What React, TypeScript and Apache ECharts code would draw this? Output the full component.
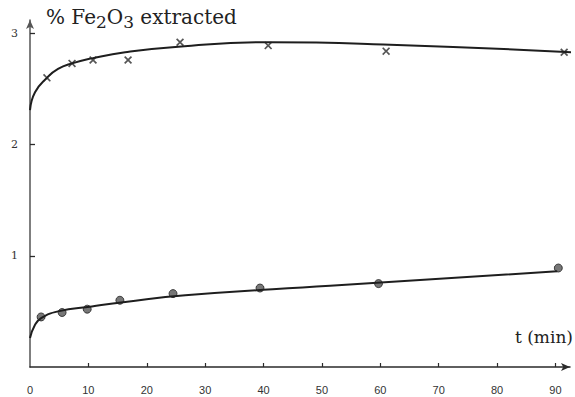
import React, { useEffect, useRef } from "react";
import * as echarts from "echarts";

// Upper series (crosses): t (min), % Fe2O3
const crossT = [2.9, 7.2, 10.8, 16.8, 25.7, 40.8, 61, 91.5];
const crossY = [2.6, 2.73, 2.76, 2.76, 2.92, 2.89, 2.84, 2.83];
// Upper fitted curve
const upperCurveT = [0, 0.86, 2.9, 4.8, 7.2, 10.6, 16.3, 25.4, 41, 60.5, 92.9];
const upperCurveY = [2.31, 2.47, 2.6, 2.68, 2.73, 2.775, 2.83, 2.88, 2.92, 2.9, 2.83];

// Lower series (circles)
const dotT = [1.9, 5.5, 9.8, 15.4, 24.5, 39.4, 59.7, 90.5];
const dotY = [0.45, 0.49, 0.52, 0.6, 0.66, 0.71, 0.75, 0.89];
// Lower fitted curve
const lowerCurveT = [0, 0.86, 1.9, 4.8, 10.6, 16.3, 26.6, 51.4, 90.3];
const lowerCurveY = [0.26, 0.38, 0.44, 0.5, 0.545, 0.585, 0.645, 0.73, 0.86];

const xLabelValues = [0, 10, 20, 30, 40, 50, 60, 70, 80, 90];
const xTickValues = [10, 20, 30, 40, 50, 60, 70, 80, 90];
const yLabelValues = [1, 2, 3];

const zip = (a: number[], b: number[]) => a.map((v, i) => [v, b[i]]);

const CROSS =
  "path://M0,1.5 L1.5,0 L5,3.5 L8.5,0 L10,1.5 L6.5,5 L10,8.5 L8.5,10 L5,6.5 L1.5,10 L0,8.5 L3.5,5 Z";

export default function App() {
  const ref = useRef<HTMLDivElement>(null);
  useEffect(() => {
    if (!ref.current) return;
    const chart = echarts.init(ref.current, null, { renderer: "svg" });
    chart.setOption({
      animation: false,
      backgroundColor: "#ffffff",
      grid: { left: 30, right: 5, top: 20, bottom: 30, containLabel: false },
      xAxis: {
        type: "value",
        min: 0,
        max: 92.5,
        splitLine: { show: false },
        axisLine: {
          lineStyle: { color: "#2a2a2a", width: 1.5 },
          symbol: ["none", "arrow"],
          symbolSize: [6, 9],
        },
        axisTick: {
          inside: true,
          length: 4,
          customValues: xTickValues,
          lineStyle: { color: "#2a2a2a", width: 1.2 },
        },
        axisLabel: {
          customValues: xLabelValues,
          margin: 17,
          fontSize: 11,
          color: "#333",
          fontFamily: "Liberation Sans",
        },
      },
      yAxis: {
        type: "value",
        min: 0,
        max: 3.12,
        splitLine: { show: false },
        axisLine: {
          lineStyle: { color: "#555", width: 1.5 },
          symbol: ["none", "arrow"],
          symbolSize: [6, 9],
        },
        axisTick: {
          inside: true,
          length: 5,
          customValues: yLabelValues,
          lineStyle: { color: "#2a2a2a", width: 1.3 },
        },
        axisLabel: {
          customValues: yLabelValues,
          margin: 12,
          fontSize: 11,
          color: "#333",
          fontFamily: "DejaVu Serif",
        },
      },
      graphic: [
        {
          type: "text",
          left: 46,
          top: 7,
          style: {
            text: "{a|% Fe}{s|2}{a|O}{s|3}{a| extracted}",
            rich: {
              a: { fontSize: 20, fontFamily: "DejaVu Serif", fill: "#222" },
              s: {
                fontSize: 17,
                fontFamily: "DejaVu Serif",
                fill: "#222",
                padding: [10, 0, 0, 0],
              },
            },
          },
        },
        {
          type: "text",
          right: 2,
          top: 328,
          style: {
            text: "t (min)",
            fontSize: 17,
            fontFamily: "DejaVu Serif",
            fill: "#222",
          },
        },
      ],
      series: [
        {
          type: "line",
          data: zip(upperCurveT, upperCurveY),
          smooth: 0.5,
          showSymbol: false,
          lineStyle: { color: "#1e1e1e", width: 2 },
        },
        {
          type: "line",
          data: zip(lowerCurveT, lowerCurveY),
          smooth: 0.5,
          showSymbol: false,
          lineStyle: { color: "#1e1e1e", width: 2 },
        },
        {
          type: "scatter",
          data: zip(crossT, crossY),
          symbol: CROSS,
          symbolSize: 8,
          itemStyle: { color: "#2a2a2a" },
        },
        {
          type: "scatter",
          data: zip(dotT, dotY),
          symbol: "circle",
          symbolSize: 8,
          itemStyle: { color: "#555", borderColor: "#222", borderWidth: 1 },
        },
      ],
    });
    return () => chart.dispose();
  }, []);
  return (
    <div
      ref={ref}
      style={{ position: "fixed", left: 0, top: 0, width: 575, height: 397 }}
    />
  );
}
